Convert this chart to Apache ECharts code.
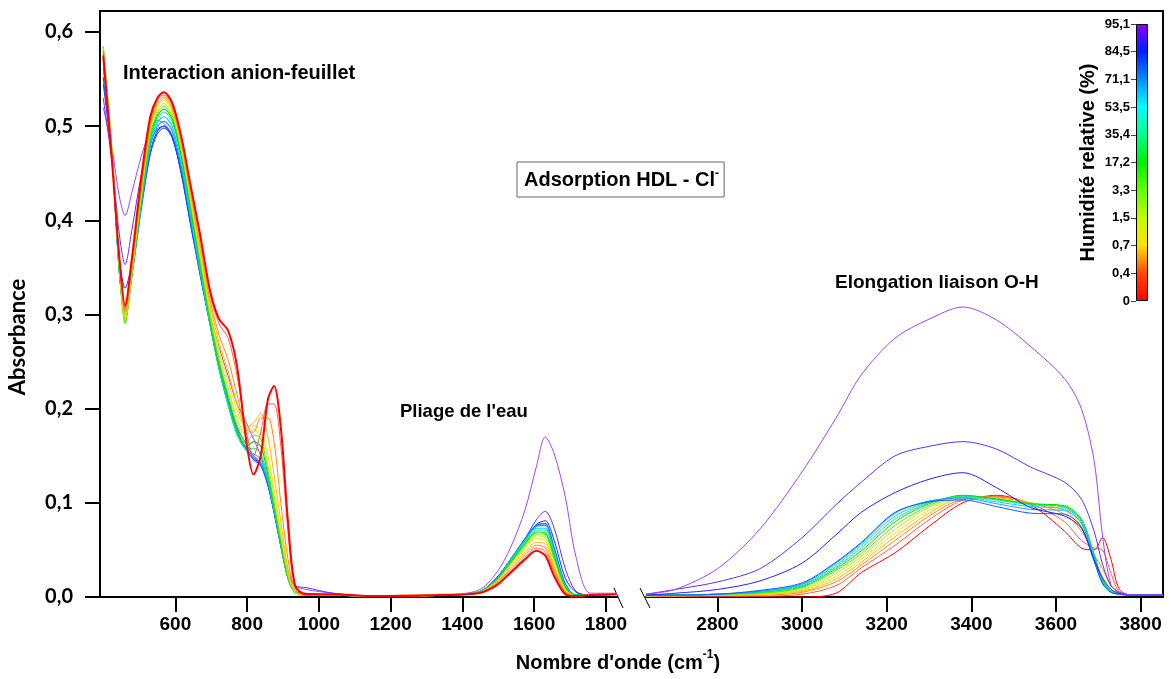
<!DOCTYPE html>
<html>
<head>
<meta charset="utf-8">
<title>Adsorption HDL - Cl</title>
<script src="https://cdn.jsdelivr.net/npm/echarts@6.0.0/dist/echarts.min.js"></script>
<style>
  html, body { margin: 0; padding: 0; background: #fff; }
  #spectre { width: 1171px; height: 679px; }
</style>
</head>
<body>
<div id="spectre"></div>
<script>
/*-------------- axes --------------*/
var xLeft = [399, 424, 444, 460, 479, 505, 530, 550, 568, 591, 616, 641, 669, 697, 722, 747, 772, 798, 818, 838, 858, 875, 894, 914, 934, 964, 1040, 1141, 1242, 1343, 1444, 1494, 1535, 1575, 1606, 1631, 1656, 1687, 1717, 1757, 1830];
var xRight = [2631, 2700, 2800, 2900, 3000, 3080, 3140, 3220, 3300, 3380, 3460, 3540, 3620, 3660, 3690, 3710, 3730, 3750, 3780, 3853];
var leftTicks = [600, 800, 1000, 1200, 1400, 1600, 1800];
var rightTicks = [2800, 3000, 3200, 3400, 3600, 3800];
var yTicks = [0, 0.1, 0.2, 0.3, 0.4, 0.5, 0.6];
var rhLabels = ['0', '0,4', '0,7', '1,5', '3,3', '17,2', '35,4', '53,5', '71,1', '84,5', '95,1'];

/*-------------- absorbance, partie gauche (400-1830 cm-1) --------------*/
var rougeG = [0.575, 0.46, 0.36, 0.31, 0.36, 0.445, 0.51, 0.53, 0.536, 0.525, 0.49, 0.44, 0.385, 0.325, 0.295, 0.283, 0.245, 0.165, 0.13, 0.15, 0.21, 0.224, 0.18, 0.08, 0.012, 0.003, 0.003, 0.001, 0.001, 0.002, 0.004, 0.012, 0.026, 0.04, 0.049, 0.044, 0.022, 0.003, 0.001, 0.002, 0.003];
var saumonG = [0.578, 0.465, 0.36, 0.306, 0.355, 0.44, 0.505, 0.528, 0.533, 0.523, 0.488, 0.438, 0.382, 0.322, 0.29, 0.275, 0.235, 0.175, 0.15, 0.175, 0.205, 0.205, 0.16, 0.07, 0.01, 0.003, 0.002, 0.001, 0.002, 0.002, 0.004, 0.013, 0.028, 0.042, 0.052, 0.048, 0.026, 0.004, 0.001, 0.002, 0.003];
var orangeG = [0.58, 0.468, 0.358, 0.303, 0.352, 0.436, 0.502, 0.525, 0.531, 0.52, 0.485, 0.433, 0.375, 0.315, 0.278, 0.252, 0.215, 0.178, 0.175, 0.19, 0.19, 0.165, 0.1, 0.04, 0.008, 0.002, 0.002, 0.001, 0.002, 0.003, 0.004, 0.014, 0.03, 0.045, 0.055, 0.052, 0.029, 0.005, 0.001, 0.002, 0.003];
var orJauneG = [0.582, 0.47, 0.355, 0.3, 0.35, 0.433, 0.5, 0.522, 0.529, 0.518, 0.482, 0.43, 0.37, 0.31, 0.27, 0.24, 0.205, 0.18, 0.185, 0.195, 0.17, 0.13, 0.08, 0.03, 0.006, 0.002, 0.002, 0.001, 0.001, 0.002, 0.004, 0.015, 0.032, 0.048, 0.058, 0.056, 0.032, 0.006, 0.001, 0.002, 0.003];
var jauneG = [0.583, 0.47, 0.352, 0.297, 0.347, 0.43, 0.497, 0.52, 0.527, 0.516, 0.48, 0.427, 0.366, 0.305, 0.262, 0.23, 0.198, 0.178, 0.182, 0.178, 0.15, 0.115, 0.07, 0.026, 0.005, 0.002, 0.002, 0.001, 0.001, 0.002, 0.004, 0.016, 0.034, 0.051, 0.062, 0.06, 0.035, 0.007, 0.001, 0.002, 0.003];
var jauneVertG = [0.584, 0.47, 0.35, 0.294, 0.345, 0.427, 0.494, 0.517, 0.524, 0.514, 0.477, 0.424, 0.362, 0.3, 0.256, 0.222, 0.19, 0.172, 0.178, 0.172, 0.14, 0.108, 0.065, 0.024, 0.005, 0.002, 0.002, 0.001, 0.001, 0.002, 0.004, 0.016, 0.035, 0.053, 0.065, 0.063, 0.038, 0.008, 0.001, 0.002, 0.003];
var vertG = [0.585, 0.47, 0.348, 0.29, 0.343, 0.424, 0.49, 0.514, 0.521, 0.511, 0.474, 0.42, 0.358, 0.296, 0.25, 0.215, 0.183, 0.165, 0.172, 0.168, 0.135, 0.1, 0.06, 0.022, 0.005, 0.002, 0.002, 0.001, 0.001, 0.002, 0.005, 0.017, 0.036, 0.055, 0.067, 0.066, 0.04, 0.009, 0.001, 0.002, 0.003];
var vert2G = [0.584, 0.47, 0.347, 0.292, 0.342, 0.422, 0.488, 0.511, 0.518, 0.508, 0.47, 0.416, 0.354, 0.293, 0.246, 0.21, 0.178, 0.16, 0.165, 0.16, 0.13, 0.097, 0.058, 0.021, 0.005, 0.002, 0.002, 0.001, 0.001, 0.002, 0.005, 0.017, 0.037, 0.057, 0.069, 0.068, 0.042, 0.01, 0.002, 0.002, 0.003];
var vertCyanG = [0.58, 0.468, 0.346, 0.296, 0.342, 0.42, 0.485, 0.508, 0.515, 0.505, 0.467, 0.413, 0.351, 0.29, 0.243, 0.206, 0.174, 0.157, 0.158, 0.152, 0.126, 0.095, 0.057, 0.02, 0.005, 0.002, 0.002, 0.001, 0.001, 0.002, 0.005, 0.018, 0.038, 0.059, 0.071, 0.071, 0.044, 0.011, 0.002, 0.002, 0.003];
var cyanG = [0.572, 0.466, 0.345, 0.3, 0.342, 0.418, 0.482, 0.504, 0.51, 0.5, 0.463, 0.41, 0.348, 0.29, 0.242, 0.204, 0.172, 0.156, 0.152, 0.146, 0.124, 0.094, 0.056, 0.02, 0.005, 0.002, 0.002, 0.001, 0.001, 0.002, 0.005, 0.018, 0.039, 0.06, 0.073, 0.073, 0.047, 0.012, 0.002, 0.002, 0.003];
var bleuClairG = [0.562, 0.465, 0.345, 0.304, 0.343, 0.416, 0.478, 0.5, 0.505, 0.495, 0.458, 0.405, 0.345, 0.29, 0.243, 0.205, 0.174, 0.156, 0.148, 0.142, 0.122, 0.092, 0.055, 0.02, 0.005, 0.002, 0.002, 0.001, 0.001, 0.002, 0.005, 0.018, 0.04, 0.061, 0.075, 0.076, 0.05, 0.013, 0.002, 0.002, 0.003];
var bleuG = [0.552, 0.464, 0.345, 0.308, 0.343, 0.412, 0.472, 0.495, 0.5, 0.49, 0.452, 0.4, 0.343, 0.29, 0.243, 0.205, 0.175, 0.157, 0.146, 0.14, 0.12, 0.09, 0.054, 0.02, 0.005, 0.002, 0.002, 0.001, 0.001, 0.002, 0.005, 0.019, 0.04, 0.062, 0.076, 0.078, 0.052, 0.014, 0.002, 0.002, 0.003];
var bleuFonceG = [0.545, 0.465, 0.36, 0.328, 0.355, 0.415, 0.47, 0.492, 0.498, 0.488, 0.45, 0.398, 0.342, 0.288, 0.242, 0.205, 0.175, 0.158, 0.148, 0.14, 0.118, 0.09, 0.054, 0.02, 0.006, 0.004, 0.002, 0.001, 0.001, 0.002, 0.005, 0.019, 0.04, 0.062, 0.077, 0.081, 0.06, 0.02, 0.005, 0.002, 0.003];
var bleuVioletG = [0.53, 0.46, 0.385, 0.353, 0.39, 0.448, 0.483, 0.497, 0.5, 0.488, 0.452, 0.402, 0.348, 0.295, 0.25, 0.212, 0.18, 0.162, 0.15, 0.142, 0.12, 0.092, 0.057, 0.024, 0.012, 0.01, 0.004, 0.001, 0.001, 0.002, 0.005, 0.02, 0.04, 0.062, 0.082, 0.091, 0.073, 0.03, 0.006, 0.002, 0.003];
var violetG = [0.52, 0.475, 0.425, 0.405, 0.43, 0.468, 0.495, 0.506, 0.503, 0.49, 0.455, 0.405, 0.352, 0.3, 0.265, 0.235, 0.205, 0.185, 0.168, 0.15, 0.122, 0.094, 0.06, 0.028, 0.012, 0.008, 0.004, 0.001, 0.001, 0.002, 0.007, 0.025, 0.053, 0.093, 0.138, 0.17, 0.152, 0.106, 0.042, 0.004, 0.004];

/*-------------- absorbance, partie droite (2630-3850 cm-1) --------------*/
var rougeD = [0.001, 0.001, 0.001, 0.0, 0.0, 0.004, 0.026, 0.047, 0.075, 0.1, 0.108, 0.098, 0.07, 0.052, 0.05, 0.063, 0.04, 0.008, 0.002, 0.002];
var saumonD = [0.001, 0.001, 0.001, 0.001, 0.003, 0.012, 0.031, 0.055, 0.082, 0.103, 0.107, 0.099, 0.08, 0.06, 0.052, 0.05, 0.025, 0.005, 0.002, 0.002];
var orangeD = [0.001, 0.001, 0.002, 0.002, 0.005, 0.016, 0.034, 0.06, 0.086, 0.104, 0.106, 0.1, 0.088, 0.07, 0.045, 0.03, 0.012, 0.004, 0.002, 0.002];
var orJauneD = [0.001, 0.001, 0.002, 0.003, 0.006, 0.019, 0.037, 0.064, 0.089, 0.105, 0.105, 0.1, 0.092, 0.075, 0.042, 0.022, 0.008, 0.003, 0.002, 0.002];
var jauneD = [0.001, 0.002, 0.002, 0.003, 0.007, 0.022, 0.04, 0.068, 0.092, 0.106, 0.104, 0.099, 0.095, 0.08, 0.042, 0.018, 0.006, 0.003, 0.002, 0.002];
var jauneVertD = [0.001, 0.002, 0.002, 0.004, 0.008, 0.025, 0.043, 0.072, 0.095, 0.107, 0.104, 0.099, 0.096, 0.081, 0.044, 0.018, 0.006, 0.003, 0.002, 0.002];
var vertD = [0.002, 0.002, 0.003, 0.004, 0.01, 0.028, 0.046, 0.076, 0.097, 0.108, 0.104, 0.099, 0.096, 0.082, 0.045, 0.018, 0.006, 0.003, 0.002, 0.002];
var vert2D = [0.002, 0.002, 0.003, 0.005, 0.011, 0.03, 0.049, 0.08, 0.099, 0.108, 0.104, 0.099, 0.097, 0.083, 0.046, 0.018, 0.006, 0.003, 0.002, 0.002];
var vertCyanD = [0.002, 0.002, 0.003, 0.005, 0.012, 0.032, 0.052, 0.083, 0.1, 0.107, 0.103, 0.098, 0.096, 0.082, 0.045, 0.017, 0.006, 0.003, 0.002, 0.002];
var cyanD = [0.002, 0.002, 0.003, 0.006, 0.013, 0.034, 0.055, 0.086, 0.101, 0.106, 0.101, 0.096, 0.094, 0.08, 0.043, 0.016, 0.006, 0.003, 0.002, 0.002];
var bleuClairD = [0.002, 0.002, 0.003, 0.006, 0.014, 0.036, 0.057, 0.089, 0.102, 0.105, 0.099, 0.093, 0.092, 0.078, 0.041, 0.015, 0.005, 0.003, 0.002, 0.002];
var bleuD = [0.002, 0.002, 0.003, 0.007, 0.015, 0.037, 0.058, 0.09, 0.101, 0.103, 0.096, 0.089, 0.088, 0.074, 0.038, 0.014, 0.005, 0.003, 0.002, 0.002];
var bleuFonceD = [0.002, 0.004, 0.008, 0.017, 0.036, 0.066, 0.09, 0.111, 0.125, 0.132, 0.116, 0.095, 0.086, 0.073, 0.04, 0.02, 0.008, 0.004, 0.002, 0.002];
var bleuVioletD = [0.003, 0.008, 0.016, 0.03, 0.063, 0.098, 0.122, 0.15, 0.16, 0.165, 0.157, 0.138, 0.122, 0.104, 0.07, 0.035, 0.012, 0.005, 0.002, 0.002];
var violetD = [0.003, 0.008, 0.03, 0.072, 0.133, 0.19, 0.236, 0.275, 0.295, 0.308, 0.294, 0.266, 0.232, 0.2, 0.145, 0.065, 0.013, 0.005, 0.002, 0.002];

// humidité croissante : rouge -> violet
var courbes = [
    { g: rougeG, d: rougeD, color: '#ff0000', w: 2 },
    { g: saumonG, d: saumonD, color: '#ff5a48', w: 1 },
    { g: orangeG, d: orangeD, color: '#ff8c00', w: 1 },
    { g: orJauneG, d: orJauneD, color: '#ffb400', w: 1 },
    { g: jauneG, d: jauneD, color: '#f0e000', w: 1 },
    { g: jauneVertG, d: jauneVertD, color: '#b4f000', w: 1 },
    { g: vertG, d: vertD, color: '#5ce600', w: 1 },
    { g: vert2G, d: vert2D, color: '#00dc00', w: 1.2 },
    { g: vertCyanG, d: vertCyanD, color: '#00e890', w: 1 },
    { g: cyanG, d: cyanD, color: '#00d4f0', w: 1.2 },
    { g: bleuClairG, d: bleuClairD, color: '#1e9cff', w: 1.2 },
    { g: bleuG, d: bleuD, color: '#0a5cff', w: 1.2 },
    { g: bleuFonceG, d: bleuFonceD, color: '#2222ff', w: 1 },
    { g: bleuVioletG, d: bleuVioletD, color: '#5a30ff', w: 1 },
    { g: violetG, d: violetD, color: '#9e44ff', w: 1 }
];

var barStops = [
    { offset: 0, color: '#ff0000' },
    { offset: 0.1, color: '#ff4800' },
    { offset: 0.2, color: '#ffe000' },
    { offset: 0.3, color: '#c0ff00' },
    { offset: 0.4, color: '#60ff00' },
    { offset: 0.5, color: '#00f000' },
    { offset: 0.6, color: '#00ff90' },
    { offset: 0.7, color: '#00ffff' },
    { offset: 0.8, color: '#0090ff' },
    { offset: 0.9, color: '#0020ff' },
    { offset: 1, color: '#8a00ff' }
];

function pairs(xs, ys) {
    return xs.map(function (x, i) { return [x, ys[i]]; });
}
function virgule(v) {
    return v.toFixed(1).replace('.', ',');
}
function brut(v) {
    return String(v);
}

var FONT = '"Liberation Sans", Arial, sans-serif';
var axisLine = { show: true, onZero: false, lineStyle: { color: '#000', width: 2 } };
var axisTick = { show: true, inside: false, length: 15, lineStyle: { color: '#000', width: 2 } };
var frameLine = { show: true, onZero: false, lineStyle: { color: '#000', width: 2 } };

var series = [];
function ligne(c, side) {
    return {
        type: 'line', showSymbol: false, smooth: 0.3, silent: true,
        xAxisIndex: side, yAxisIndex: side,
        data: side === 0 ? pairs(xLeft, c.g) : pairs(xRight, c.d),
        lineStyle: { color: c.color, width: side === 0 ? c.w : 1 }, itemStyle: { color: c.color }
    };
}
// gauche : le rouge par-dessus ; droite : le violet par-dessus
for (var i = courbes.length - 1; i >= 0; i--) series.push(ligne(courbes[i], 0));
for (var j = 0; j < courbes.length; j++) series.push(ligne(courbes[j], 1));

// barre de couleur (humidité relative)
series.push({
    type: 'bar', xAxisIndex: 3, yAxisIndex: 3, silent: true, barWidth: '100%',
    data: [rhLabels.length - 1],
    itemStyle: { color: new echarts.graphic.LinearGradient(0, 1, 0, 0, barStops), borderColor: '#000', borderWidth: 1 }
});

var option = {
    animation: false,
    backgroundColor: '#fff',
    grid: [
        { left: 100, top: 11, width: 517, bottom: 82, outerBoundsMode: 'none' },
        { left: 646, top: 11, right: 8, bottom: 82, outerBoundsMode: 'none' },
        { left: 100, top: 11, right: 8, bottom: 82, outerBoundsMode: 'none' },
        { left: 1136, top: 24, width: 12, height: 277, outerBoundsMode: 'none' }
    ],
    xAxis: [
        { gridIndex: 0, type: 'value', min: 390, max: 1831, axisLine: axisLine, axisTick: Object.assign({ customValues: leftTicks }, axisTick),
          splitLine: { show: false },
          axisLabel: { customValues: leftTicks, formatter: brut, margin: 18, color: '#000', fontSize: 19, fontWeight: 'bold', fontFamily: FONT } },
        { gridIndex: 1, type: 'value', min: 2631, max: 3853, axisLine: axisLine, axisTick: Object.assign({ customValues: rightTicks }, axisTick),
          splitLine: { show: false },
          axisLabel: { customValues: rightTicks, formatter: brut, margin: 18, color: '#000', fontSize: 19, fontWeight: 'bold', fontFamily: FONT } },
        { gridIndex: 2, type: 'value', position: 'top', min: 0, max: 1,
          axisLine: frameLine, axisTick: { show: false }, axisLabel: { show: false }, splitLine: { show: false } },
        { gridIndex: 3, type: 'category', data: ['rh'], show: false }
    ],
    yAxis: [
        { gridIndex: 0, type: 'value', min: 0, max: 0.6223, axisLine: axisLine, splitLine: { show: false },
          axisTick: Object.assign({ customValues: yTicks }, axisTick),
          axisLabel: { customValues: yTicks, formatter: virgule, margin: 27, color: '#000', fontSize: 20, fontWeight: 'bold', fontFamily: 'Lato, "Open Sans", sans-serif' } },
        { gridIndex: 1, type: 'value', min: 0, max: 0.6223, show: false },
        { gridIndex: 2, type: 'value', position: 'right', min: 0, max: 1,
          axisLine: frameLine, axisTick: { show: false }, axisLabel: { show: false }, splitLine: { show: false } },
        { gridIndex: 3, type: 'value', min: 0, max: rhLabels.length - 1, interval: 1, position: 'left', splitLine: { show: false },
          axisLine: { show: false },
          axisTick: { show: true, length: 5, lineStyle: { color: '#444', width: 1 } },
          axisLabel: { margin: 6, color: '#000', fontSize: 13, fontWeight: 'bold', fontFamily: FONT,
                       formatter: function (v) { return rhLabels[Math.round(v)]; } },
          name: 'Humidité relative (%)', nameLocation: 'middle', nameRotate: 90, nameGap: 38,
          nameTextStyle: { color: '#000', fontSize: 20, fontWeight: 'bold', fontFamily: FONT } }
    ],
    graphic: [
        { type: 'text', x: 18, y: 337, rotation: Math.PI / 2,
          style: { text: 'Absorbance', fill: '#000', font: 'bold 22px Lato, "Open Sans", sans-serif', align: 'center', verticalAlign: 'middle' } },
        { type: 'text', x: 123, y: 73, style: { text: 'Interaction anion-feuillet', fill: '#000', font: 'bold 20px ' + FONT, verticalAlign: 'middle' } },
        { type: 'text', x: 400, y: 412, style: { text: "Pliage de l'eau", fill: '#000', font: 'bold 18.5px ' + FONT, verticalAlign: 'middle' } },
        { type: 'text', x: 835, y: 283, style: { text: 'Elongation liaison O-H', fill: '#000', font: 'bold 19px ' + FONT, verticalAlign: 'middle' } },
        { type: 'text', x: 517, y: 162, style: {
            text: '{a|Adsorption HDL - Cl}{s|-}', fill: '#000', borderColor: '#666', borderWidth: 1, padding: [6, 5, 5, 7],
            rich: { a: { font: 'bold 20px ' + FONT, fill: '#000' },
                    s: { font: 'bold 12px ' + FONT, fill: '#000', verticalAlign: 'top', padding: [0, 0, 12, 0] } } } },
        { type: 'text', x: 618, y: 663, style: {
            text: "{a|Nombre d'onde (cm}{s|-1}{a|)}", align: 'center', verticalAlign: 'middle',
            rich: { a: { font: 'bold 20px ' + FONT, fill: '#000' },
                    s: { font: 'bold 12px ' + FONT, fill: '#000', padding: [0, 0, 16, 0] } } } },
        // coupure de l'axe
        { type: 'line', shape: { x1: 614, y1: 588, x2: 623, y2: 608 }, style: { stroke: '#000', lineWidth: 1 } },
        { type: 'line', shape: { x1: 640, y1: 588, x2: 650, y2: 608 }, style: { stroke: '#000', lineWidth: 1 } }
    ],
    series: series
};

var chart = echarts.init(document.getElementById('spectre'));
chart.setOption(option);
</script>
</body>
</html>
